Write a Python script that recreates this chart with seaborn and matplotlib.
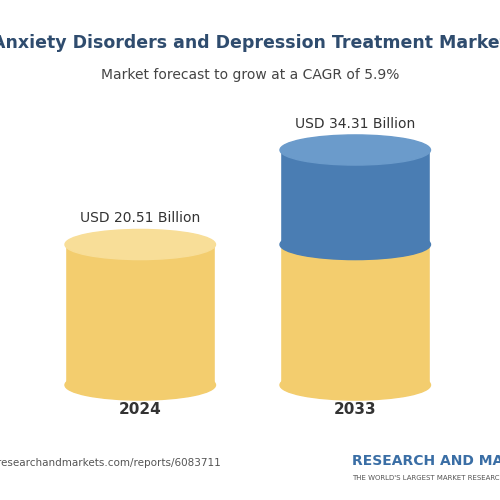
import matplotlib
matplotlib.use("Agg")
import matplotlib.pyplot as plt
import seaborn as sns
import pandas as pd
from matplotlib.patches import Ellipse

# --- data ---
years = ["2024", "2033"]
values = [20.51, 34.31]
value_labels = ["USD 20.51 Billion", "USD 34.31 Billion"]

sns.set_style("white")
plt.rcParams['font.family'] = ['DejaVu Sans']

YELLOW = "#F3CD6E"
YELLOW_TOP = "#F8DE98"
BLUE = "#4A7DB3"
BLUE_TOP = "#6B9BCB"

fig = plt.figure(figsize=(5, 5), dpi=100)
fig.patch.set_facecolor("white")
ax = fig.add_axes([0.05, 0.23, 0.9, 0.47])

df = pd.DataFrame({"year": years, "value": [values[0], values[0]]})
width = 0.70
# base (yellow) part of both cylinders
sns.barplot(data=df, x="year", y="value", color=YELLOW, width=width,
            saturation=1, ax=ax)
# blue growth part of the 2033 cylinder
ax.bar(1, values[1] - values[0], bottom=values[0], width=width, color=BLUE)

eh = 4.4  # ellipse height in data units
for i, v in enumerate(values):
    # curved bottom
    ax.add_patch(Ellipse((i, 0), width, eh, color=YELLOW, clip_on=False))
    if i == 1:
        # curved boundary between yellow and blue
        ax.add_patch(Ellipse((i, values[0]), width, eh, color=BLUE, clip_on=False))
        ax.add_patch(Ellipse((i, v), width, eh, color=BLUE_TOP, clip_on=False))
    else:
        ax.add_patch(Ellipse((i, v), width, eh, color=YELLOW_TOP, clip_on=False))
    ax.text(i, v + eh / 2 + 0.6, value_labels[i], ha="center", va="bottom",
            fontsize=10, color="#333333")
    ax.text(i, -eh / 2 - 0.3, years[i], ha="center", va="top",
            fontsize=11, fontweight="bold", color="#333333")

for b in ax.patches:
    b.set_clip_on(False)

ax.set_xlim(-0.536, 1.557)
ax.set_ylim(0, values[1])
ax.axis("off")

fig.text(0.5, 0.915, "Anxiety Disorders and Depression Treatment Market",
         ha="center", va="center", fontsize=12.5, fontweight="bold", color="#2F4C6E")
fig.text(0.5, 0.85, "Market forecast to grow at a CAGR of 5.9%",
         ha="center", va="center", fontsize=10, color="#444444")

fig.text(-0.06, 0.075, "www.researchandmarkets.com/reports/6083711",
         ha="left", va="center", fontsize=7.5, color="#555555")
fig.text(0.705, 0.078, "RESEARCH AND MARKETS", ha="left", va="center",
         fontsize=10, fontweight="bold", color="#3A6EA5")
fig.text(0.705, 0.045, "THE WORLD'S LARGEST MARKET RESEARCH STORE", ha="left",
         va="center", fontsize=5, color="#555555")

fig.savefig("out.png", dpi=100)
